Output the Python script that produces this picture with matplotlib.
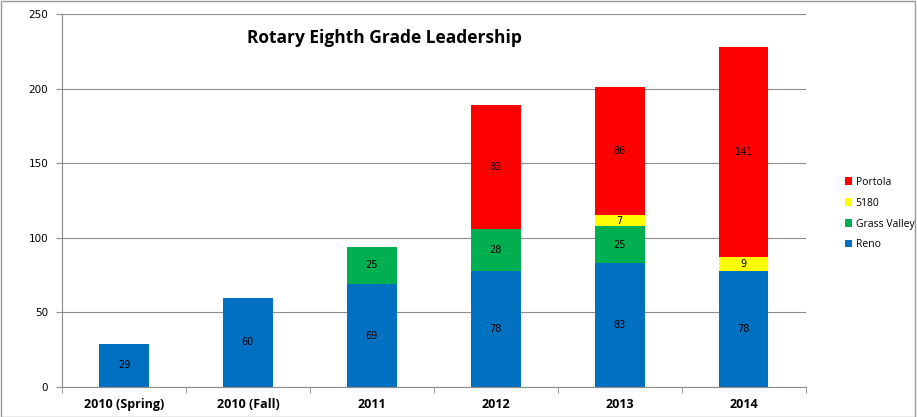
import matplotlib.pyplot as plt
import numpy as np
from matplotlib.patches import Rectangle

years = ["2010 (Spring)", "2010 (Fall)", "2011", "2012", "2013", "2014"]
reno = [29, 60, 69, 78, 83, 78]
grass_valley = [0, 0, 25, 28, 25, 0]
s5180 = [0, 0, 0, 0, 7, 9]
portola = [0, 0, 0, 83, 86, 141]

series = [("Reno", reno, "#0070C0"),
          ("Grass Valley", grass_valley, "#00B050"),
          ("5180", s5180, "#FFFF00"),
          ("Portola", portola, "#FF0000")]

fig = plt.figure(figsize=(9.17, 4.17), dpi=100)
ax = fig.add_axes([0.0676, 0.072, 0.811, 0.894])
fig.patches.append(Rectangle((0.001, 0.001), 0.997, 0.997, transform=fig.transFigure,
                             fill=False, edgecolor="#999999", linewidth=1))

x = np.arange(len(years))
bottom = np.zeros(len(years))
handles = []
for name, vals, col in series:
    vals = np.array(vals)
    b = ax.bar(x, vals, 0.4, bottom=bottom, color=col, label=name)
    handles.append(b)
    for xi, v, bt in zip(x, vals, bottom):
        if v > 0:
            ax.text(xi, bt + v / 2, str(v), ha="center", va="center",
                    fontsize=7, family="DejaVu Sans")
    bottom += vals

ax.set_xlim(-0.5, len(years) - 0.5)
ax.set_ylim(0, 250)
ax.set_yticks(range(0, 251, 50))
ax.yaxis.grid(True, color="#8c8c8c", linewidth=0.8)
ax.set_axisbelow(True)
ax.set_xticks(x)
ax.set_xticklabels(years, fontsize=9, fontweight="bold", family="Open Sans")
ax.tick_params(axis="x", length=0, pad=8)
ax.set_xticks(np.arange(-0.5, len(years)), minor=True)
ax.tick_params(axis="x", which="minor", length=4, color="#8c8c8c")
ax.tick_params(axis="y", labelsize=7.5, length=4, color="#8c8c8c", pad=6)
for s in ["top", "right"]:
    ax.spines[s].set_visible(False)
for s in ["left", "bottom"]:
    ax.spines[s].set_color("#8c8c8c")

ax.text(2.1, 234, "Rotary Eighth Grade Leadership", ha="center", va="center",
        fontsize=12.5, fontweight="bold", family="Open Sans")

ax.legend(handles[::-1], [s[0] for s in series][::-1], loc="center left",
          bbox_to_anchor=(1.04, 0.465), frameon=False,
          handlelength=0.7, handleheight=0.7, labelspacing=0.95, handletextpad=0.35,
          prop={"family": "Open Sans", "size": 7.5})

fig.savefig("out.png", dpi=100)
